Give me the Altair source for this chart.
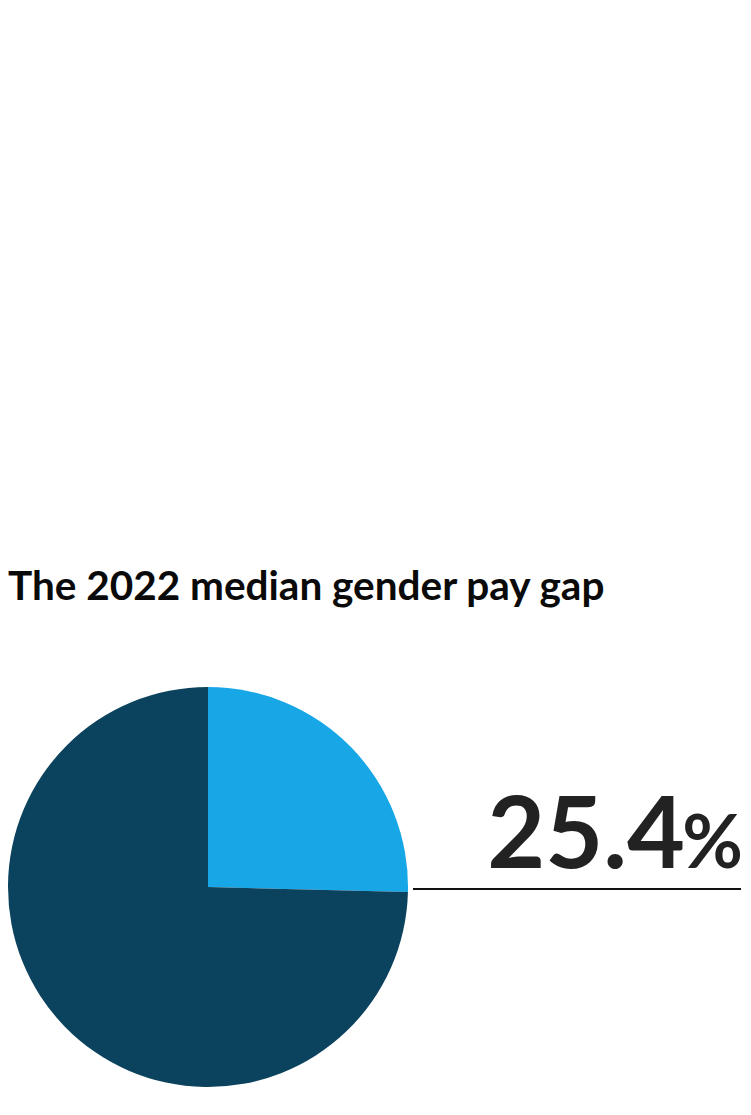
import altair as alt
import pandas as pd

# Data
categories = ["Gender pay gap", "Remaining pay"]
shares = [25.4, 74.6]
slice_order = [0, 1]
colors = ["#17A7E7", "#0B425D"]
title_text = ["The 2022 median gender pay gap"]
unit_text = ["%"]

df = pd.DataFrame({"category": categories, "share": shares, "order": slice_order})

W, H = 735, 1099

pie = alt.Chart(df).mark_arc(radius=200).encode(
    theta=alt.Theta("share:Q", stack=True),
    color=alt.Color("category:N", scale=alt.Scale(domain=categories, range=colors), legend=None),
    order=alt.Order("order:Q"),
    x=alt.value(200),
    y=alt.value(879),
)

pct = alt.Chart(df).transform_filter(
    alt.datum.category == categories[0]
).mark_text(
    font="Lato", fontWeight="bold", fontSize=100, align="right",
    baseline="alphabetic", color="#222222",
).encode(
    text=alt.Text("share:Q", format=".1f"),
    x=alt.value(677),
    y=alt.value(860),
)

unit = alt.Chart(pd.DataFrame({"t": unit_text})).mark_text(
    font="Lato", fontWeight="bold", fontSize=74, align="right",
    baseline="alphabetic", color="#222222",
).encode(
    text="t:N",
    x=alt.value(735),
    y=alt.value(860),
)

rule = alt.Chart(pd.DataFrame({"t": unit_text})).mark_rule(
    color="#111111", strokeWidth=2
).encode(
    x=alt.value(405),
    x2=alt.value(733),
    y=alt.value(881),
)

title = alt.Chart(pd.DataFrame({"t": title_text})).mark_text(
    font="Lato", fontWeight="bold", fontSize=40.5, align="left",
    baseline="alphabetic", color="#0a0a0a",
).encode(
    text="t:N",
    x=alt.value(0),
    y=alt.value(592),
)

chart = alt.layer(pie, pct, unit, rule, title).properties(
    width=W, height=H, autosize="none", padding=0
).configure_view(stroke=None)

chart.save("out.html", embed_options={"renderer": "svg", "actions": False})
